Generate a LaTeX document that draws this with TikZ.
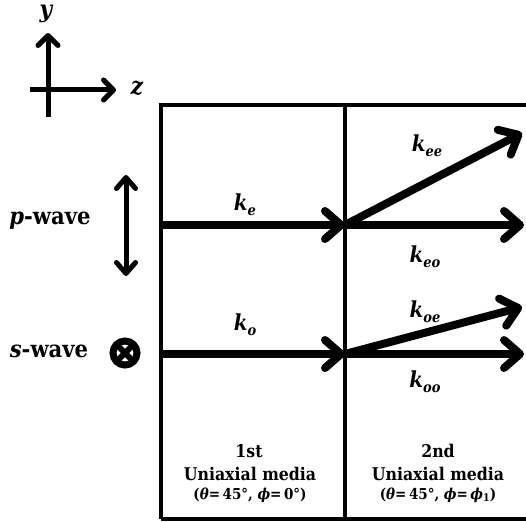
\documentclass[tikz,border=0pt]{standalone}
\usepackage{fontspec}
\setmainfont{DejaVu Serif Condensed}
\usetikzlibrary{arrows.meta}
\newcommand{\kl}[1]{\textbf{\textit{k}}\raisebox{-0.4ex}{\fontsize{14.5}{15}\selectfont\textbf{\textit{#1}}}}
\begin{document}
\begin{tikzpicture}[x=1pt,y=-1pt,
  boxline/.style={line width=3.5pt},
  wavearrow/.style={line width=8pt,-{Straight Barb[round,length=16pt,width=28pt]}},
  axisline/.style={line width=5pt},
  lbl/.style={font=\fontsize{23.5}{26}\selectfont\bfseries},
  axlbl/.style={font=\fontsize{24}{26}\selectfont\bfseries\itshape},
  klbl/.style={font=\fontsize{22}{24}\selectfont},
  medtxt/.style={font=\fontsize{17.5}{19}\selectfont\bfseries},
  partxt/.style={font=\fontsize{15}{16}\selectfont\bfseries},
]
\useasboundingbox (0,0) rectangle (526,521);
% axes
\coordinate (ybot) at (48,117);
\coordinate (ytop) at (48,33);
\coordinate (zl) at (30,90);
\coordinate (zr) at (116,90);
\draw[axisline,-{Straight Barb[round,length=10pt,width=20pt]}] (ybot) -- (ytop);
\draw[axisline,-{Straight Barb[round,length=10pt,width=20pt]}] (zl) -- (zr);
\node[axlbl] (ylab) at (46,14) {y};
\node[axlbl] (zlab) at (137,88) {z};
% box
\coordinate (bl) at (161,519);
\coordinate (tl) at (161,105);
\coordinate (tr) at (528,105);
\coordinate (br) at (528,519);
\coordinate (mt) at (345,105);
\coordinate (mb) at (345,519);
\draw[boxline] (bl) -- (tl) -- (tr);
\draw[boxline] (bl) -- (br);
\draw[boxline] (mt) -- (mb);
% p-wave
\node[lbl] (pw) at (50,221) {\textit{p}-wave};
\coordinate (pt) at (126,175);
\coordinate (pb) at (126,276);
\draw[axisline,{Straight Barb[round,length=11pt,width=19pt]}-{Straight Barb[round,length=11pt,width=19pt]}] (pb) -- (pt);
% s-wave
\node[lbl] (sw) at (49,351) {\textit{s}-wave};
\coordinate (sx) at (125,353);
\draw[line width=7pt] (sx) circle (12);
\draw[line width=6pt] (sx) ++(45:10.5) -- ++(225:21);
\draw[line width=6pt] (sx) ++(135:10.5) -- ++(-45:21);
% rays
\coordinate (ein) at (161,225);
\coordinate (J1) at (345,225);
\coordinate (eeend) at (522,133);
\coordinate (eoend) at (524,225);
\coordinate (oin) at (161,354);
\coordinate (J2) at (345,354);
\coordinate (oeend) at (522,307);
\coordinate (ooend) at (524,354);
\draw[wavearrow] (ein) -- (J1);
\draw[wavearrow] (J1) -- (eeend);
\draw[wavearrow] (J1) -- (eoend);
\draw[wavearrow] (oin) -- (J2);
\draw[wavearrow] (J2) -- (oeend);
\draw[wavearrow] (J2) -- (ooend);
\node[klbl] (ke) at (245,205) {\kl{e}};
\node[klbl] (kee) at (427,146) {\kl{ee}};
\node[klbl] (keo) at (425,257) {\kl{eo}};
\node[klbl] (ko) at (245,325) {\kl{o}};
\node[klbl] (koe) at (425,312) {\kl{oe}};
\node[klbl] (koo) at (425,382) {\kl{oo}};
% media labels
\node[medtxt] (m1a) at (249,451) {1st};
\node[medtxt] (m1b) at (250,474) {Uniaxial media};
\node[partxt] (m1c) at (250,495) {(\textit{θ}=\,45°, \textit{ϕ}=\,0°)};
\node[medtxt] (m2a) at (438,451) {2nd};
\node[medtxt] (m2b) at (438,474) {Uniaxial media};
\node[partxt] (m2c) at (438,495) {(\textit{θ}=\,45°, \textit{ϕ}=\,\textit{ϕ}\raisebox{-0.3ex}{\fontsize{10.5}{11}\selectfont 1})};
\end{tikzpicture}
\end{document}
